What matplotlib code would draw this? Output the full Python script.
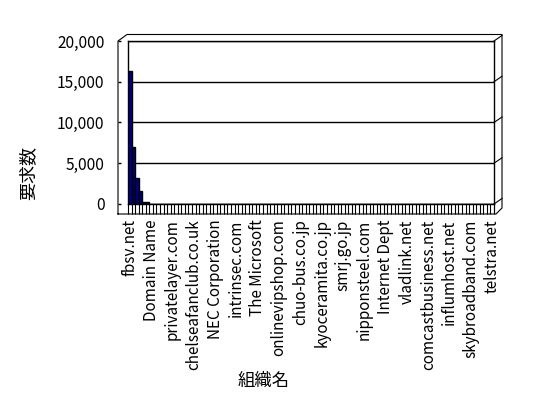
import matplotlib
matplotlib.use("Agg")
import matplotlib.pyplot as plt
from matplotlib.lines import Line2D
import numpy as np

plt.rcParams['font.family'] = ['Noto Sans CJK JP', 'DejaVu Sans']

# request counts per organisation, sorted descending
values = [16300, 6950, 3150, 1650, 250, 220,
          60, 55, 52, 50, 48, 46, 45, 44, 42, 41,
          40, 39, 38, 37, 36, 35, 34, 33, 32, 31,
          30, 30, 29, 28, 28, 27, 26, 26, 25, 25,
          24, 24, 23, 23, 22, 22, 21, 21, 20, 20,
          19, 19, 18, 18, 18, 17, 17, 17, 16, 16,
          16, 15, 15, 15, 14, 14, 14, 13, 13, 13,
          12, 12, 12, 12, 11, 11, 11, 11, 10, 10,
          10, 10, 9, 9, 9, 9, 8, 8, 8, 8,
          7, 7, 7, 7, 6, 6, 6, 6, 5, 5,
          5, 5, 4, 4, 4, 4, 3]

# organisation names shown on the axis (every sixth category)
label_names = ["fbsv.net", "Domain Name", "privatelayer.com", "chelseafanclub.co.uk",
               "NEC Corporation", "intrinsec.com", "The Microsoft", "onlinevipshop.com",
               "chuo-bus.co.jp", "kyoceramita.co.jp", "smrj.go.jp", "nipponsteel.com",
               "Internet Dept", "vladlink.net", "comcastbusiness.net", "influmhost.net",
               "skybroadband.com", "telstra.net"]
label_step = 6

y_ticks = [0, 5000, 10000, 15000, 20000]
y_tick_labels = ["0", "5,000", "10,000", "15,000", "20,000"]

W, H = 548, 398
fig = plt.figure(figsize=(W / 100, H / 100), dpi=100)
fig.patch.set_facecolor("white")

def fx(px):
    return px / W

def fy(py):
    return 1 - py / H

# back wall of the chart
L, R, T, B = 128, 494, 41, 204
ax = fig.add_axes([fx(L), fy(B), fx(R) - fx(L), fy(T) - fy(B)])

n = len(values)
x = np.arange(n)
ax.bar(x, values, width=1.0, color="#000080", edgecolor="black", linewidth=1.0, zorder=3)

ax.set_xlim(-0.5, n - 0.5)
ax.set_ylim(0, 20000)

for s in ax.spines.values():
    s.set_linewidth(1.0)
    s.set_color("black")

# horizontal gridlines on the back wall
ax.set_yticks(y_ticks)
ax.set_yticklabels(y_tick_labels, fontsize=11.2)
ax.yaxis.grid(True, color="black", linewidth=1.0, zorder=1)
ax.tick_params(axis="y", length=0, pad=17)

# floor tick marks at category boundaries, labels at every sixth category
ax.set_xticks(np.arange(n + 1) - 0.5)
ax.set_xticklabels([])
ax.tick_params(axis="x", which="major", direction="out", length=7.2, width=0.8)
label_pos = [i * label_step for i in range(len(label_names))]
ax.set_xticks(label_pos, minor=True)
ax.set_xticklabels(label_names, minor=True, rotation=90, fontsize=11,
                   va="top", ha="center")
ax.tick_params(axis="x", which="minor", length=0, pad=11)

# value-axis tick marks on the front edge
ax.hlines(y_ticks, -0.0273, -0.0191, transform=ax.get_yaxis_transform(),
          color="black", linewidth=1.0, clip_on=False)

def line(xs, ys, lw=1.0):
    fig.add_artist(Line2D([fx(v) for v in xs], [fy(v) for v in ys],
                          transform=fig.transFigure, color="black", linewidth=lw))

# outer frame of the 3-D box
line([118, 118, 127, 502, 502, 496, 118], [214, 41, 34.5, 34.5, 208, 214, 214], lw=0.8)
line([494, 494], [204, 212], lw=0.8)

# right side wall edges following the gridlines
for v in y_ticks:
    py = B - (B - T) * v / 20000
    line([494, 502], [py, py - 5.5], lw=0.8)

fig.text(fx(28), fy(173), "要求数", rotation=90, ha="center", va="center", fontsize=13)
fig.text(fx(264), fy(381), "組織名", ha="center", va="center", fontsize=12.5)

fig.savefig("out.png", dpi=100, facecolor="white")
